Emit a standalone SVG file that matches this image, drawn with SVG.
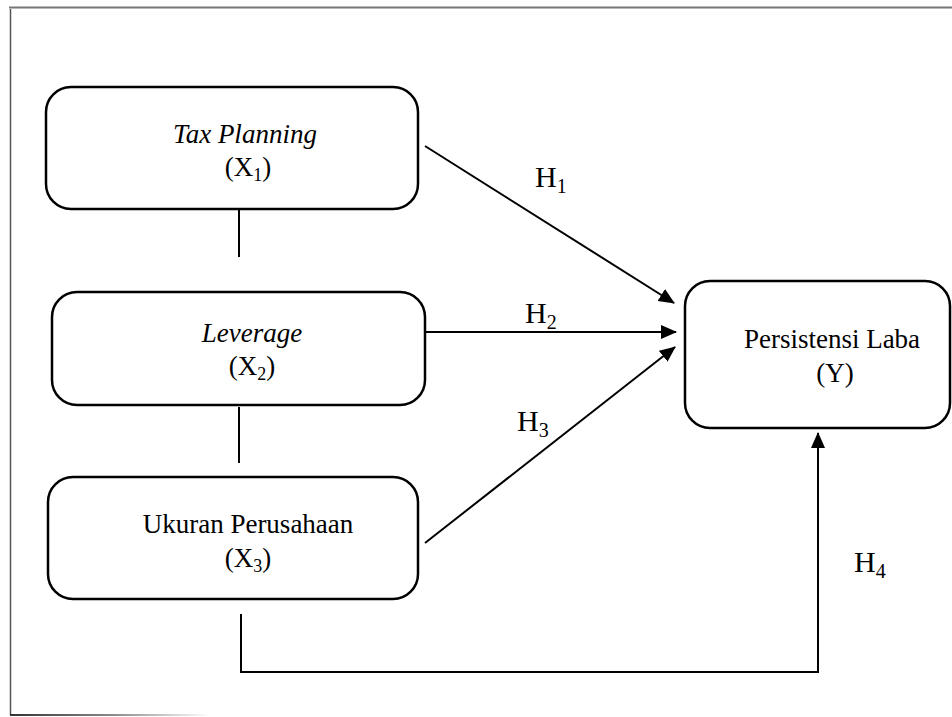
<svg xmlns="http://www.w3.org/2000/svg" width="952" height="717" viewBox="0 0 952 717">
<defs>
<style>
.box{fill:#fff;stroke:#000;stroke-width:2.5}
.ln{fill:none;stroke:#000;stroke-width:2}
.t{font-family:"Liberation Serif","Times New Roman",serif;font-size:27px;fill:#000;text-anchor:middle}
.i{font-style:italic}
.h{font-family:"Liberation Serif","Times New Roman",serif;font-size:30px;fill:#000}
.s{font-size:18px}
.hs{font-size:20px}
</style>
<marker id="ah" markerUnits="userSpaceOnUse" markerWidth="16" markerHeight="16" viewBox="0 0 16 16" refX="15" refY="8" orient="auto">
<path d="M0,1 L16,8 L0,15 Z" fill="#000"/>
</marker>
<linearGradient id="fade" x1="0" y1="0" x2="1" y2="0">
<stop offset="0" stop-color="#333"/>
<stop offset="0.5" stop-color="#888"/>
<stop offset="1" stop-color="#fff"/>
</linearGradient>
</defs>
<rect width="952" height="717" fill="#fff"/>
<g id="frame">
<line x1="9" y1="7.5" x2="952" y2="7.5" stroke="#777" stroke-width="2"/>
<line x1="10.5" y1="9" x2="10.5" y2="715" stroke="#555" stroke-width="1.5"/>
<rect x="10" y="714" width="200" height="2" fill="url(#fade)"/>
</g>
<g id="connectors">
<line class="ln" x1="239" y1="210" x2="239" y2="257"/>
<line class="ln" x1="239" y1="407" x2="239" y2="463"/>
<line class="ln" x1="425" y1="146" x2="674" y2="303" marker-end="url(#ah)"/>
<line class="ln" x1="425" y1="332" x2="676" y2="332" marker-end="url(#ah)"/>
<line class="ln" x1="425" y1="543" x2="675" y2="347" marker-end="url(#ah)"/>
<polyline class="ln" points="241,614 241,672 818,672 818,433" marker-end="url(#ah)"/>
<text class="h" x="535" y="187">H<tspan class="hs" dy="6">1</tspan></text>
<text class="h" x="525" y="323">H<tspan class="hs" dy="6">2</tspan></text>
<text class="h" x="517" y="431">H<tspan class="hs" dy="6">3</tspan></text>
<text class="h" x="854" y="572">H<tspan class="hs" dy="6">4</tspan></text>
</g>
<g id="x1">
<rect class="box" x="46" y="87" width="372" height="122" rx="25"/>
<text class="t i" x="245" y="143">Tax Planning</text>
<text class="t" x="248" y="176">(X<tspan class="s" dy="5">1</tspan><tspan dy="-5">)</tspan></text>
</g>
<g id="x2">
<rect class="box" x="52" y="292" width="373" height="113" rx="25"/>
<text class="t i" x="252" y="342">Leverage</text>
<text class="t" x="252" y="375">(X<tspan class="s" dy="5">2</tspan><tspan dy="-5">)</tspan></text>
</g>
<g id="x3">
<rect class="box" x="48" y="477" width="370" height="122" rx="25"/>
<text class="t" x="248" y="533">Ukuran Perusahaan</text>
<text class="t" x="248" y="567">(X<tspan class="s" dy="5">3</tspan><tspan dy="-5">)</tspan></text>
</g>
<g id="y">
<rect class="box" x="685" y="281" width="265" height="147" rx="25"/>
<text class="t" x="832" y="348">Persistensi Laba</text>
<text class="t" x="835" y="382">(Y)</text>
</g>
</svg>
